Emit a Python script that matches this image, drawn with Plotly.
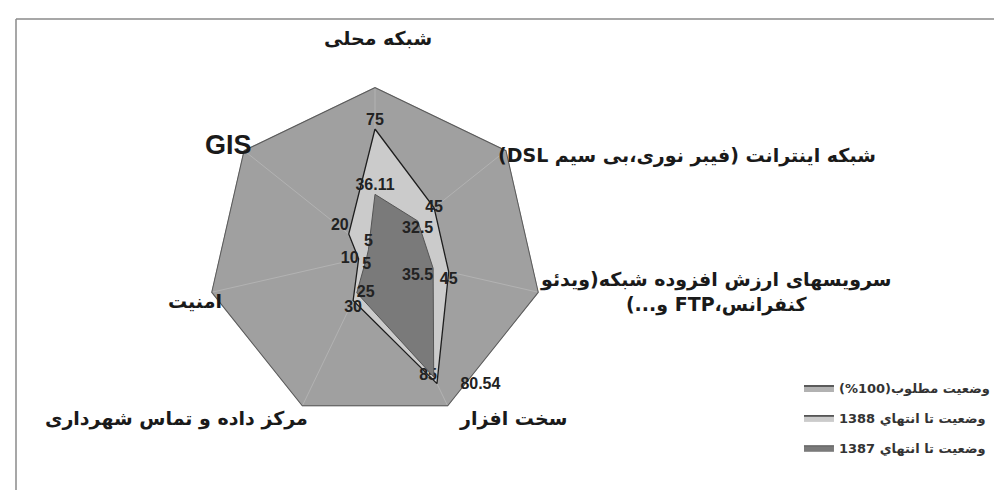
import plotly.graph_objects as go

# ---------------- data ----------------
categories = [
    "شبکه محلی",
    "شبکه اینترانت (فیبر نوری،بی سیم DSL)",
    "سرویسهای ارزش افزوده شبکه(ویدئو کنفرانس،FTP و...)",
    "سخت افزار",
    "مرکز داده و تماس شهرداری",
    "امنیت",
    "GIS",
]
series_names = [
    "وضعیت مطلوب(100%)",
    "وضعیت تا انتهاي 1388",
    "وضعیت تا انتهاي 1387",
]
target_100 = [100, 100, 100, 100, 100, 100, 100]
status_1388 = [75, 45, 45, 85, 30, 10, 20]
status_1387 = [36.11, 32.5, 35.5, 80.54, 25, 5, 5]

W, H = 1002, 490
RLE, PDF = "\u202b", "\u202c"
NB = "\u00a0"


def rtl(s):
    return RLE + s + PDF


def px(x, y):
    return x / W, 1 - y / H


cx, cy, R = 367, 247, 168

fig = go.Figure()

theta = categories + [categories[0]]


def closed(v):
    return list(v) + [v[0]]


lab_font = dict(family="Liberation Sans Narrow, Liberation Sans, Arial", size=16,
                color="#222222", weight="bold")

fig.add_trace(go.Scatterpolar(
    r=closed(target_100), theta=theta, mode="lines", fill="toself",
    fillcolor="rgba(127,127,127,0.6)", line=dict(color="#5a5a5a", width=2),
    name=rtl(series_names[0]), hoverinfo="skip", legendgroup="a",
))

lab_1388 = [str(v) for v in status_1388]
fig.add_trace(go.Scatterpolar(
    r=closed(status_1388), theta=theta, mode="lines+text", fill="toself",
    fillcolor="#cbcbcb", line=dict(color="#1e1e1e", width=1.3),
    text=lab_1388 + [""],
    textposition=["top center", "middle center", "bottom center", "top left",
                  "bottom center", "middle left", "top left", "top center"],
    textfont=lab_font,
    name=rtl(series_names[1]), hoverinfo="skip", legendgroup="b",
))

lab_1387 = [f"{v:g}" for v in status_1387]
lab_1387[3] = NB * 6 + lab_1387[3]
fig.add_trace(go.Scatterpolar(
    r=closed(status_1387), theta=theta, mode="lines+text", fill="toself",
    fillcolor="#7a7a7a", line=dict(color="#555555", width=1),
    text=lab_1387 + [""],
    textposition=["top center", "bottom center", "bottom left", "bottom right",
                  "middle right", "bottom center", "top center", "top center"],
    textfont=lab_font,
    name=rtl(series_names[2]), hoverinfo="skip", legendgroup="c",
))

x0, x1 = (cx - R) / W, (cx + R) / W
y0, y1 = (H - cy - R) / H, (H - cy + R) / H

fig.update_layout(
    width=W, height=H,
    margin=dict(l=0, r=0, t=0, b=0),
    paper_bgcolor="white",
    showlegend=True,
    legend=dict(
        x=0.985, y=0.255, xanchor="right", yanchor="top",
        font=dict(family="DejaVu Sans", size=13, color="#333333", weight="bold"),
        bgcolor="rgba(0,0,0,0)", tracegroupgap=10, itemwidth=30,
    ),
    polar=dict(
        domain=dict(x=[x0, x1], y=[y0, y1]),
        gridshape="linear",
        bgcolor="#d2d2d2",
        radialaxis=dict(range=[0, 100], visible=True, showgrid=False, showline=False,
                        showticklabels=False, ticks=""),
        angularaxis=dict(direction="clockwise", rotation=90, showgrid=True,
                         gridcolor="#ffffff", gridwidth=1, showline=False,
                         showticklabels=False, ticks=""),
    ),
)

# frame lines
fx, fy = px(8, 11)
fig.add_shape(type="line", xref="paper", yref="paper", x0=fx, y0=fy, x1=1.0, y1=fy,
              line=dict(color="#8a8a8a", width=1.5))
fig.add_shape(type="line", xref="paper", yref="paper", x0=fx, y0=fy, x1=fx, y1=0.0,
              line=dict(color="#8a8a8a", width=1.5))

# category labels
cat_font = dict(family="DejaVu Sans", size=19, color="#1a1a1a", weight="bold")
cat_lines = [
    [categories[0]],
    [categories[1]],
    ["سرویسهای ارزش افزوده شبکه(ویدئو", "کنفرانس،FTP و...)"],
    [categories[3]],
    [categories[4]],
    [categories[5]],
    [categories[6]],
]
cat_pos = [
    (370, 30, "center"),
    (488, 147, "left"),
    (708, 284, "center"),
    (505, 410, "center"),
    (302, 410, "right"),
    (216, 293, "right"),
    (246, 137, "right"),
]
for i, (lines, (x, y, anc)) in enumerate(zip(cat_lines, cat_pos)):
    ax, ay = px(x, y)
    f = dict(cat_font)
    if categories[i] == "GIS":
        f = dict(family="Liberation Sans, Arial", size=27, color="#1a1a1a", weight="bold")
    fig.add_annotation(
        x=ax, y=ay, xref="paper", yref="paper", xanchor=anc, yanchor="middle",
        text="<br>".join(rtl(l) if l != "GIS" else l for l in lines),
        showarrow=False, font=f, align="center",
    )

fig.write_html("out.html")
